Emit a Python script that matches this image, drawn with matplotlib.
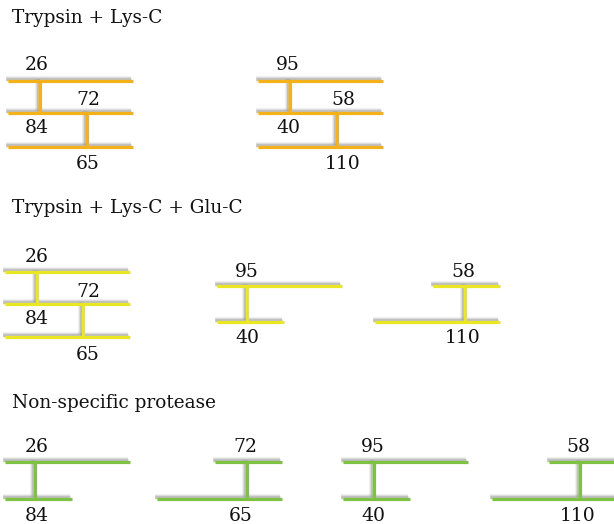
import matplotlib
matplotlib.use("Agg")
import matplotlib.pyplot as plt

# peptide schemes, coordinates in image pixels (x, y down)
ORANGE = "#f4b11a"; YELLOW = "#e9e623"; GREEN = "#7dc242"; SHADOW = "#9c9c9c"

TITLES = ["Trypsin + Lys-C", "Trypsin + Lys-C + Glu-C", "Non-specific protease"]
TITLE_Y = [18, 208, 403]

# peptide chains: (x0, x1, y)
P1_CHAINS = [(8, 133, 81), (8, 133, 113), (8, 133, 147),
             (258, 383, 81), (258, 383, 113), (258, 383, 147)]
P1_BONDS = [(40, 81, 113), (87, 113, 147), (290, 81, 113), (337, 113, 147)]
P1_LABELS = ["26", "72", "84", "65", "95", "58", "40", "110"]
P1_LABEL_XY = [(37, 65), (88, 100), (37, 128), (88, 164),
               (288, 65), (343, 100), (288, 128), (343, 164)]

P2_CHAINS = [(5, 130, 272), (5, 130, 304), (5, 130, 337),
             (217, 342, 286), (217, 284, 322),
             (433, 500, 286), (375, 500, 322)]
P2_BONDS = [(37, 272, 304), (83, 304, 337), (247, 286, 322), (465, 286, 322)]
P2_LABELS = ["26", "72", "84", "65", "95", "40", "58", "110"]
P2_LABEL_XY = [(37, 257), (88, 292), (37, 319), (88, 355),
               (247, 272), (247, 338), (463, 272), (463, 338)]

P3_CHAINS = [(5, 130, 462), (5, 72, 499),
             (215, 282, 462), (157, 282, 499),
             (343, 468, 462), (343, 410, 499),
             (549, 616, 462), (492, 616, 499)]
P3_BONDS = [(35, 462, 499), (247, 462, 499), (374, 462, 499), (580, 462, 499)]
P3_LABELS = ["26", "84", "72", "65", "95", "40", "58", "110"]
P3_LABEL_XY = [(37, 447), (37, 516), (245, 447), (241, 516),
               (373, 447), (373, 516), (578, 447), (578, 516)]

PANELS = [(P1_CHAINS, P1_BONDS, P1_LABELS, P1_LABEL_XY, ORANGE),
          (P2_CHAINS, P2_BONDS, P2_LABELS, P2_LABEL_XY, YELLOW),
          (P3_CHAINS, P3_BONDS, P3_LABELS, P3_LABEL_XY, GREEN)]

FONT = "DejaVu Serif"
LW = 2.3   # pt, ~3 px


def seg(ax, xs, ys, color):
    # soft grey drop shadow up-left, then the coloured stroke
    for w, a in [(LW * 1.9, 0.12), (LW * 1.3, 0.25), (LW * 0.9, 0.45)]:
        ax.plot([x - 1.8 for x in xs], [y - 1.8 for y in ys], color=SHADOW, lw=w,
                alpha=a, solid_capstyle="butt", zorder=1)
    ax.plot(xs, ys, color=color, lw=LW, solid_capstyle="butt", zorder=2)


fig = plt.figure(figsize=(6.14, 5.24), dpi=100)
ax = fig.add_axes([0, 0, 1, 1]); ax.axis("off")
ax.set_xlim(0, 614); ax.set_ylim(524, 0)

for t, y in zip(TITLES, TITLE_Y):
    ax.text(12, y, t, fontsize=13.3, family=FONT, color="#111111", ha="left", va="center")

for chains, bonds, labels, label_xy, col in PANELS:
    for x0, x1, y in chains:
        seg(ax, [x0, x1], [y, y], col)
    for x, y0, y1 in bonds:
        seg(ax, [x, x], [y0, y1], col)
    for lab, (x, y) in zip(labels, label_xy):
        ax.text(x, y, lab, fontsize=13.5, family=FONT, color="#111111", ha="center", va="center")

fig.savefig("out.png", dpi=100, facecolor="white")
